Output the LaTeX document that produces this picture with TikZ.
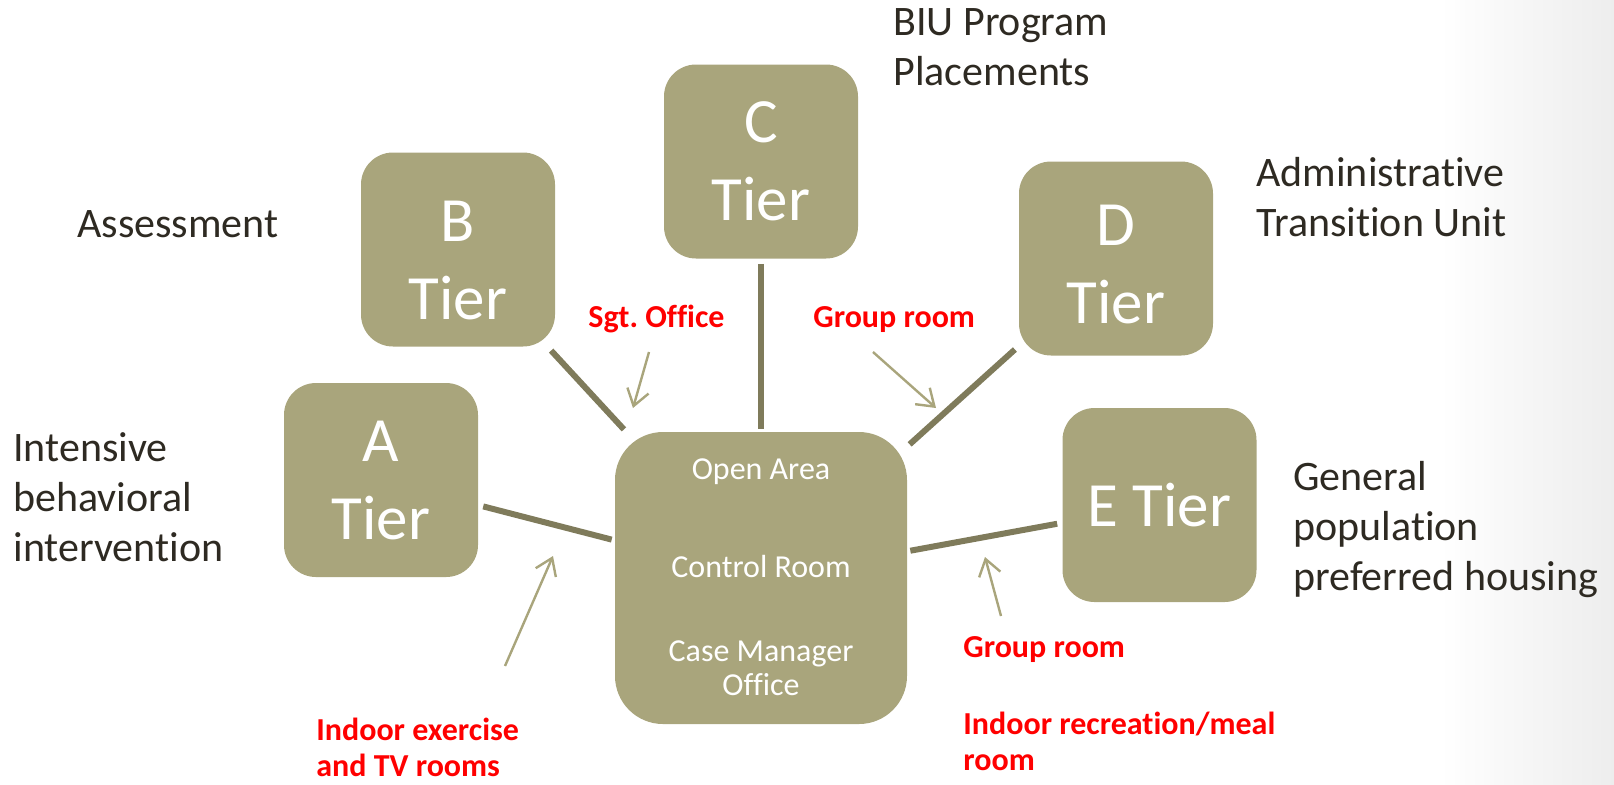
\documentclass[tikz,border=0pt]{standalone}
\usepackage{fontspec}
\setmainfont{Carlito}[Ligatures=NoCommon]
\usepackage{xcolor}
\usetikzlibrary{arrows.meta}
\frenchspacing

\definecolor{tierfill}{HTML}{A9A57C}
\definecolor{tierline}{HTML}{7F7B5B}
\definecolor{roomred}{HTML}{FF0000}
\definecolor{ink}{HTML}{2E2A22}

\begin{document}
\begin{tikzpicture}[x=0.5pt, y=-0.5pt,
    tier/.style={fill=tierfill, rounded corners=16pt, minimum width=97pt, minimum height=97pt,
        inner sep=0pt, text=white, align=center, font=\fontsize{31.5}{39}\selectfont},
    hubbox/.style={fill=tierfill, rounded corners=24pt, minimum width=146pt, minimum height=146pt, inner sep=0pt},
    hubtext/.style={anchor=base, inner sep=0pt, text=white, align=center, font=\fontsize{16}{17}\selectfont},
    note/.style={anchor=base west, inner sep=0pt, align=left, text=ink, font=\fontsize{21}{25}\selectfont},
    room/.style={anchor=base west, inner sep=0pt, align=left, text=roomred, font=\bfseries\fontsize{16}{18}\selectfont},
    link/.style={draw=tierline, line width=3pt, shorten <=2.5pt, shorten >=1.5pt},
    pointer/.style={draw=tierfill, line width=1.2pt, -{Straight Barb[length=8pt,width=11pt]}}]
    \useasboundingbox (0,0) rectangle (1614,784);
    \shade[left color=white, right color=black!7] (1440,0) rectangle (1614,784);   %Hintergrund rechts

    % Tiers
    \node[tier] (A) at (381,480) {A\\Tier};
    \node[tier] (B) at (458,249.5) {\rule{0pt}{31pt}B\\Tier};
    \node[tier] (C) at (761,161.5) {C\\Tier};
    \node[tier] (D) at (1116,258.5) {\rule{0pt}{26pt}D\\Tier};
    \node[tier] (E) at (1159.5,505) {E Tier};

    % Mitte
    \node[hubbox] (hub) at (761,578) {};
    \node[hubtext] (open) at (761,479) {Open Area};
    \node[hubtext] (control) at (761,577) {Control Room};
    \node[hubtext] (case) at (761,695) {Case Manager\\Office};

    % Verbindungen
    \draw[link] (A) -- (hub);
    \draw[link] (B) -- (hub);
    \draw[link] (C) -- (hub);
    \draw[link] (D) -- (hub);
    \draw[link] (E) -- (hub);

    % Beschriftungen (Grundlinie der letzten Zeile)
    \node[note] (assess) at (77,237) {Assessment};
    \node[note] (intensive) at (13,561) {Intensive\\behavioral\\intervention};
    \node[note] (biu) at (893,85) {BIU Program\\Placements};
    \node[note] (admin) at (1256,236) {Administrative\\Transition Unit};
    \node[note] (general) at (1293,590) {General\\population\\preferred housing};

    % Raeume
    \node[room] (sgt) at (588,327) {Sgt. Office};
    \node[room] (grouptop) at (813,327) {Group room};
    \node[room] (exercise) at (316,776) {Indoor exercise\\and TV rooms};
    \node[room] (groupbot) at (963,657) {Group room};
    \node[room] (recreation) at (963,770) {Indoor recreation/meal\\room};

    % Pfeile
    \coordinate (sgt-tail) at (649,352);
    \coordinate (sgt-tip) at (633,408);
    \coordinate (grouptop-tail) at (873,352);
    \coordinate (grouptop-tip) at (936,408);
    \coordinate (exercise-tail) at (505,666);
    \coordinate (exercise-tip) at (553,556);
    \coordinate (groupbot-tail) at (1001,616);
    \coordinate (groupbot-tip) at (985,557);
    \draw[pointer] (sgt-tail) -- (sgt-tip);
    \draw[pointer] (grouptop-tail) -- (grouptop-tip);
    \draw[pointer] (exercise-tail) -- (exercise-tip);
    \draw[pointer] (groupbot-tail) -- (groupbot-tip);
\end{tikzpicture}
\end{document}
